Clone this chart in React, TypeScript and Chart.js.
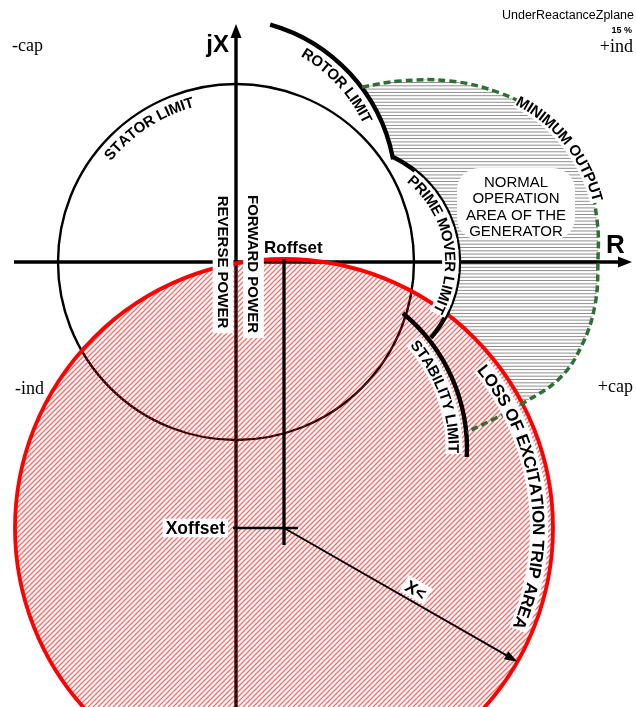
import React, { useEffect, useRef } from 'react';
import { Chart, registerables } from 'chart.js';

Chart.register(...registerables);

// Impedance plane (R horizontal, jX vertical), 1 unit = 10 px at this size
const rAxisRange = [-23.6, 40.0];
const jxAxisRange = [-44.5, 26.2];

// [centre R, centre X, radius]
const statorLimit = [0, 0, 17.8];
// [centre R, centre X, radius, from deg, to deg]
const rotorLimit = [-1.3, 7.1, 17.3, 74.2, 11.3];
const primeMoverLimit = [10.65, 0, 11.65, 64.3, -40.6];
const stabilityLimit = [5.5, -18.7, 17.6, 50.5, -2.6];
// [Roffset, Xoffset, X<]
const lossOfExcitation = [4.8, -26.6, 26.9];
const xLessAngleDeg = [-29.8];

// minimum output curve
const minOutputR = [12.6, 16.4, 21.4, 26.4, 29.9, 32.7, 35.1, 36.1, 36.2, 35.9, 34.6, 32.4, 28.9, 26.0, 23.1];
const minOutputX = [17.5, 18.1, 18.1, 16.9, 15.0, 12.2, 8.5, 4.2, 0.2, -4.3, -8.3, -11.6, -14.0, -15.6, -17.0];

// axis and marker extents
const rAxisSpan = [-22.2, 39.6];
const jxAxisSpan = [-44.5, 23.8];
const roffsetSpan = [0.3, -28.3];
const xoffsetSpan = [-0.3, 6.2];

const SANS = "'Liberation Sans', Arial, Helvetica, sans-serif";
const SERIF = "'Liberation Serif', 'Times New Roman', serif";
const D = Math.PI / 180;

function arcText(ctx: CanvasRenderingContext2D, text: string, cx: number, cy: number, r: number, midDegMath: number, size: number, bg: boolean) {
  ctx.save();
  ctx.font = `bold ${size}px ${SANS}`;
  const chars = Array.from(text);
  const widths = chars.map((c) => ctx.measureText(c).width);
  const total = widths.reduce((a, b) => a + b, 0);
  const capH = size * 0.716;
  const start = -midDegMath * D - total / (2 * r);
  const place = (pass: number) => {
    let a = start;
    chars.forEach((ch, i) => {
      const w = widths[i];
      const ang = a + w / (2 * r);
      ctx.save();
      ctx.translate(cx + r * Math.cos(ang), cy + r * Math.sin(ang));
      ctx.rotate(ang + Math.PI / 2);
      if (pass === 0) {
        ctx.fillStyle = '#fff';
        ctx.fillRect(-w / 2 - 1, -capH / 2 - 3, w + 2, capH + 6);
      } else {
        ctx.fillStyle = '#000';
        ctx.textAlign = 'center';
        ctx.textBaseline = 'alphabetic';
        ctx.fillText(ch, 0, capH / 2);
      }
      ctx.restore();
      a += w / r;
    });
  };
  if (bg) place(0);
  place(1);
  ctx.restore();
}

function boxedText(ctx: CanvasRenderingContext2D, text: string, x: number, y: number, rot: number, font: string, align: CanvasTextAlign, capH: number, pad: number, bg: boolean) {
  ctx.save();
  ctx.translate(x, y);
  ctx.rotate(rot);
  ctx.font = font;
  const w = ctx.measureText(text).width;
  let left = -w / 2;
  if (align === 'left') left = 0;
  if (align === 'right') left = -w;
  if (bg) {
    ctx.fillStyle = '#fff';
    ctx.fillRect(left - pad, -capH / 2 - pad, w + 2 * pad, capH + 2 * pad);
  }
  ctx.fillStyle = '#000';
  ctx.textAlign = 'left';
  ctx.textBaseline = 'alphabetic';
  ctx.fillText(text, left, capH / 2);
  ctx.restore();
}

const diagramPlugin = {
  id: 'pqDiagram',
  beforeDatasetsDraw(chart: any) {
    const { ctx, chartArea: ca } = chart;
    const xs = chart.scales.x;
    const ys = chart.scales.y;
    const px = (v: number) => xs.getPixelForValue(v);
    const py = (v: number) => ys.getPixelForValue(v);
    const k = Math.abs(px(1) - px(0));
    const W = chart.width;
    const H = chart.height;

    ctx.save();
    ctx.fillStyle = '#fff';
    ctx.fillRect(0, 0, W, H);

    const [lr, lx, lrad] = lossOfExcitation;

    // normal operation area hatch
    const meta = chart.getDatasetMeta(0);
    if (meta.dataset && meta.dataset.updateControlPoints) meta.dataset.updateControlPoints(ca, 'x');
    const pts = meta.data;
    ctx.save();
    ctx.beginPath();
    ctx.moveTo(pts[0].x, pts[0].y);
    for (let i = 1; i < pts.length; i++) {
      const a = pts[i - 1];
      const b = pts[i];
      ctx.bezierCurveTo(a.cp2x ?? a.x, a.cp2y ?? a.y, b.cp1x ?? b.x, b.cp1y ?? b.y, b.x, b.y);
    }
    const [pcx, pcy, pr, pa0, pa1] = primeMoverLimit;
    ctx.lineTo(px(pcx + pr * Math.cos(pa1 * D)), py(pcy + pr * Math.sin(pa1 * D)));
    ctx.arc(px(pcx), py(pcy), pr * k, -pa1 * D, -pa0 * D, true);
    const [rcx, rcy, rr, ra0, ra1] = rotorLimit;
    const gStart = Math.atan2(minOutputX[0] - rcy, minOutputR[0] - rcx);
    ctx.arc(px(rcx), py(rcy), rr * k, -ra1 * D, -gStart, true);
    ctx.closePath();
    ctx.clip();
    ctx.beginPath();
    ctx.rect(0, 0, W, H);
    ctx.arc(px(lr), py(lx), lrad * k, 0, Math.PI * 2);
    ctx.clip('evenodd');
    ctx.strokeStyle = '#8f8f8f';
    ctx.lineWidth = 1;
    ctx.beginPath();
    for (let yy = 0; yy < H; yy += 3.3) {
      ctx.moveTo(0, yy);
      ctx.lineTo(W, yy);
    }
    ctx.stroke();
    ctx.restore();

    // stator limit
    ctx.strokeStyle = '#000';
    ctx.lineWidth = 2.4;
    ctx.beginPath();
    ctx.arc(px(statorLimit[0]), py(statorLimit[1]), statorLimit[2] * k, 0, Math.PI * 2);
    ctx.stroke();

    // axes
    ctx.lineWidth = 3.4;
    ctx.lineCap = 'butt';
    const y0 = py(0);
    const x0 = px(0);
    const rTip = px(rAxisSpan[1]);
    const jTip = py(jxAxisSpan[1]);
    ctx.beginPath();
    ctx.moveTo(px(rAxisSpan[0]), y0);
    ctx.lineTo(rTip - 10, y0);
    ctx.moveTo(x0, py(jxAxisSpan[0]));
    ctx.lineTo(x0, jTip + 10);
    ctx.stroke();
    ctx.fillStyle = '#000';
    ctx.beginPath();
    ctx.moveTo(rTip, y0);
    ctx.lineTo(rTip - 14, y0 - 5.5);
    ctx.lineTo(rTip - 14, y0 + 5.5);
    ctx.closePath();
    ctx.moveTo(x0, jTip);
    ctx.lineTo(x0 - 5.5, jTip + 14);
    ctx.lineTo(x0 + 5.5, jTip + 14);
    ctx.closePath();
    ctx.fill();

    // loss of excitation area hatch
    ctx.save();
    ctx.beginPath();
    ctx.arc(px(lr), py(lx), lrad * k, 0, Math.PI * 2);
    ctx.clip();
    ctx.strokeStyle = 'rgba(255,0,0,0.6)';
    ctx.lineWidth = 1.3;
    ctx.beginPath();
    for (let s = -H; s < W + H; s += 5) {
      ctx.moveTo(s, H);
      ctx.lineTo(s + H, 0);
    }
    ctx.stroke();
    ctx.restore();
    ctx.strokeStyle = '#ff0000';
    ctx.lineWidth = 3.8;
    ctx.beginPath();
    ctx.arc(px(lr), py(lx), lrad * k, 0, Math.PI * 2);
    ctx.stroke();

    // rotor, prime mover and stability limits
    ctx.strokeStyle = '#000';
    ctx.lineWidth = 4.4;
    ctx.lineJoin = 'miter';
    ctx.beginPath();
    ctx.arc(px(rcx), py(rcy), rr * k, -ra0 * D, -ra1 * D, false);
    ctx.arc(px(pcx), py(pcy), pr * k, -pa0 * D, -pa1 * D, false);
    ctx.stroke();
    const [scx, scy, sr, sa0, sa1] = stabilityLimit;
    ctx.beginPath();
    ctx.arc(px(scx), py(scy), sr * k, -sa0 * D, -sa1 * D, false);
    ctx.stroke();
    ctx.restore();
  },
  afterDatasetsDraw(chart: any) {
    const { ctx } = chart;
    const xs = chart.scales.x;
    const ys = chart.scales.y;
    const px = (v: number) => xs.getPixelForValue(v);
    const py = (v: number) => ys.getPixelForValue(v);
    const k = Math.abs(px(1) - px(0));
    const W = chart.width;
    const [lr, lx, lrad] = lossOfExcitation;

    ctx.save();
    // X< arrow head
    const ang = xLessAngleDeg[0] * D;
    const tipX = px(lr + lrad * Math.cos(ang));
    const tipY = py(lx + lrad * Math.sin(ang));
    const sa = -ang;
    ctx.fillStyle = '#000';
    ctx.save();
    ctx.translate(tipX, tipY);
    ctx.rotate(sa);
    ctx.beginPath();
    ctx.moveTo(0, 0);
    ctx.lineTo(-13, -4.5);
    ctx.lineTo(-13, 4.5);
    ctx.closePath();
    ctx.fill();
    ctx.restore();

    // curved limit labels
    arcText(ctx, 'STATOR LIMIT', px(statorLimit[0]), py(statorLimit[1]), 16.6 * k, 123, 15, false);
    arcText(ctx, 'ROTOR LIMIT', px(rotorLimit[0]), py(rotorLimit[1]), 16.1 * k, 42.7, 15, false);
    arcText(ctx, 'MINIMUM OUTPUT', px(21.1), py(2.3), 15.6 * k, 38.6, 15, true);
    arcText(ctx, 'PRIME MOVER LIMIT', px(primeMoverLimit[0]), py(primeMoverLimit[1]), 10.8 * k, 11.5, 15, true);
    arcText(ctx, 'STABILITY LIMIT', px(stabilityLimit[0]), py(stabilityLimit[1]), 16.3 * k, 19.8, 15, true);
    arcText(ctx, 'LOSS OF EXCITATION TRIP AREA', px(lr), py(lx), 25.5 * k, 8, 17, true);

    // normal operation text
    const bx = px(28.0);
    const by = py(5.8);
    ctx.fillStyle = '#fff';
    ctx.beginPath();
    ctx.roundRect(bx - 59, by - 36, 118, 72, 22);
    ctx.fill();
    ctx.fillStyle = '#000';
    ctx.font = `15px ${SANS}`;
    ctx.textAlign = 'center';
    ctx.textBaseline = 'alphabetic';
    ['NORMAL', 'OPERATION', 'AREA OF THE', 'GENERATOR'].forEach((t, i) => {
      ctx.fillText(t, bx, py(8.05) + i * 16.5 + 5.4);
    });

    // power direction labels
    boxedText(ctx, 'FORWARD POWER', px(1.75), py(-0.2), Math.PI / 2, `bold 15px ${SANS}`, 'center', 10.7, 5, true);
    boxedText(ctx, 'REVERSE POWER', px(-1.3), py(0), Math.PI / 2, `bold 15px ${SANS}`, 'center', 10.7, 5, true);

    // offsets
    boxedText(ctx, 'Roffset', px(2.8), py(0.9) - 6, 0, `bold 17px ${SANS}`, 'left', 12.2, 2, true);
    boxedText(ctx, 'Xoffset', px(xoffsetSpan[0]) - 8, py(lx), 0, `bold 17.5px ${SANS}`, 'right', 12.5, 3, true);
    const t = 0.54;
    const mx = px(lr) + (tipX - px(lr)) * t + Math.sin(sa) * 12;
    const my = py(lx) + (tipY - py(lx)) * t - Math.cos(sa) * 12;
    boxedText(ctx, 'X<', mx, my, sa, `bold 17px ${SANS}`, 'center', 12.2, 3, true);

    // axis names
    ctx.fillStyle = '#000';
    ctx.textAlign = 'left';
    ctx.font = `bold 26px ${SANS}`;
    ctx.fillText('R', px(37.0), py(0.9));
    ctx.textAlign = 'right';
    ctx.font = `bold 24px ${SANS}`;
    ctx.fillText('jX', px(-0.7), py(21.0));

    // quadrant notes
    ctx.font = `18px ${SERIF}`;
    ctx.textAlign = 'left';
    ctx.fillText('-cap', 12, 51);
    ctx.fillText('-ind', 15, 394);
    ctx.textAlign = 'right';
    ctx.fillText('+ind', W - 3, 52);
    ctx.fillText('+cap', W - 3, 392);

    // title
    ctx.font = `12.5px ${SANS}`;
    ctx.fillText('UnderReactanceZplane', W - 2, 19);
    ctx.font = `bold 9px ${SANS}`;
    ctx.fillText('15 %', W - 4, 33);
    ctx.restore();
  },
};

export default function App() {
  const ref = useRef<HTMLCanvasElement | null>(null);
  useEffect(() => {
    if (!ref.current) return;
    const [lr, lx, lrad] = lossOfExcitation;
    const ang = xLessAngleDeg[0] * D;
    const chart = new Chart(ref.current, {
      type: 'scatter',
      data: {
        datasets: [
          {
            label: 'Minimum output',
            data: minOutputR.map((r, i) => ({ x: r, y: minOutputX[i] })),
            showLine: true,
            tension: 0.4,
            borderColor: '#2f6f35',
            borderWidth: 3.5,
            borderDash: [7, 4],
            pointRadius: 0,
            fill: false,
          },
          {
            label: 'Roffset',
            data: [
              { x: lr, y: roffsetSpan[0] },
              { x: lr, y: roffsetSpan[1] },
            ],
            showLine: true,
            borderColor: '#000',
            borderWidth: 3.3,
            pointRadius: 0,
          },
          {
            label: 'Xoffset',
            data: [
              { x: xoffsetSpan[0], y: lx },
              { x: xoffsetSpan[1], y: lx },
            ],
            showLine: true,
            borderColor: '#000',
            borderWidth: 2.6,
            pointRadius: 0,
          },
          {
            label: 'X<',
            data: [
              { x: lr, y: lx },
              { x: lr + (lrad - 0.6) * Math.cos(ang), y: lx + (lrad - 0.6) * Math.sin(ang) },
            ],
            showLine: true,
            borderColor: '#000',
            borderWidth: 2,
            pointRadius: 0,
          },
        ],
      },
      options: {
        animation: false,
        responsive: false,
        devicePixelRatio: 1,
        events: [],
        layout: { padding: 0 },
        plugins: { legend: { display: false }, tooltip: { enabled: false } },
        scales: {
          x: { type: 'linear', min: rAxisRange[0], max: rAxisRange[1], display: false },
          y: { type: 'linear', min: jxAxisRange[0], max: jxAxisRange[1], display: false },
        },
      },
      plugins: [diagramPlugin],
    });
    return () => chart.destroy();
  }, []);
  return (
    <div style={{ position: 'absolute', left: 0, top: 0, width: 636, height: 707, background: '#fff' }}>
      <canvas ref={ref} width={636} height={707} />
    </div>
  );
}
